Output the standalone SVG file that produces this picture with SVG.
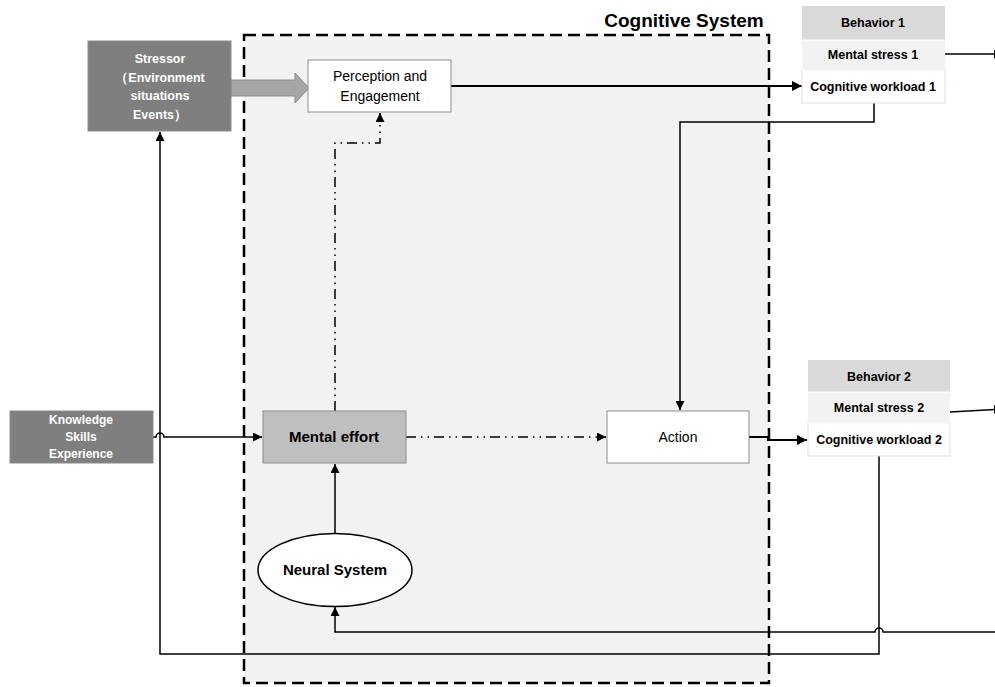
<svg xmlns="http://www.w3.org/2000/svg" width="995" height="687" viewBox="0 0 995 687">
  <style>
    .lbl { font-family: "Liberation Sans", Arial, sans-serif; text-anchor: middle; }
    .b { font-weight: bold; }
    .w { fill: #ffffff; }
    .k { fill: #000000; }
    .ln { fill: none; stroke: #000; stroke-width: 1.5; }
    .thick { fill: none; stroke: #000; stroke-width: 2.2; }
    .dd { fill: none; stroke: #000; stroke-width: 1.5; stroke-dasharray: 10 5 1.5 5 1.5 5; }
    .box { stroke: #8c8c8c; stroke-width: 1; }
  </style>
  <defs>
    <marker id="ah" viewBox="0 0 10 10" refX="10" refY="5" markerWidth="9" markerHeight="9" markerUnits="userSpaceOnUse" orient="auto">
      <path d="M0,0 L10,5 L0,10 z" fill="#000"/>
    </marker>
    <marker id="ahT" viewBox="0 0 10 10" refX="10" refY="5" markerWidth="10" markerHeight="10" markerUnits="userSpaceOnUse" orient="auto">
      <path d="M0,0 L10,5 L0,10 z" fill="#000"/>
    </marker>
  </defs>

  <rect width="995" height="687" fill="#ffffff"/>

  <!-- cognitive system boundary -->
  <g id="cognitive-system">
    <rect x="244" y="35" width="525" height="648" fill="#f2f2f2" stroke="#000" stroke-width="2.5" stroke-dasharray="12 6"/>
    <text class="lbl b" x="684" y="27" font-size="19">Cognitive System</text>
  </g>

  <!-- connectors -->
  <g id="connectors">
    <!-- stressor block arrow -->
    <path d="M231,80 H295 V73 L309,88 L295,103 V96 H231 z" fill="#a6a6a6" stroke="#8c8c8c" stroke-width="1"/>
    <!-- perception to workload 1 -->
    <path class="thick" d="M451,86 H802" marker-end="url(#ahT)"/>
    <!-- mental stress 1 out (head runs past the right edge) -->
    <path class="ln" d="M945,54 H1003" marker-end="url(#ah)"/>
    <!-- workload 1 to action -->
    <path class="ln" d="M874,103 V122 H680 V410" marker-end="url(#ah)"/>
    <!-- mental stress 2 out -->
    <path class="ln" d="M950,412 L1003,409" marker-end="url(#ah)"/>
    <!-- action to workload 2 -->
    <path class="thick" d="M749,437 H768 V440 H807" marker-end="url(#ahT)"/>
    <!-- mental effort to action -->
    <path class="dd" d="M406,437 H606" marker-end="url(#ah)"/>
    <!-- mental effort to perception -->
    <path class="dd" d="M335,411 V143 H380 V113" marker-end="url(#ah)"/>
    <!-- knowledge to mental effort (hop over feedback line) -->
    <path class="ln" d="M153,437 H156 A4,4 0 0 1 164,437 H262" marker-end="url(#ah)"/>
    <!-- workload 2 feedback to stressor -->
    <path class="ln" d="M879,456 V654 H160 V132" marker-end="url(#ah)"/>
    <!-- external input to neural system (hop) -->
    <path class="ln" d="M995,632 H883 A4,4 0 0 0 875,632 H335 V607" marker-end="url(#ah)"/>
    <!-- neural system to mental effort -->
    <path class="ln" d="M335,533 V464" marker-end="url(#ah)"/>
  </g>

  <g id="stressor">
    <rect class="box" x="88" y="41" width="143" height="90" fill="#7f7f7f"/>
    <text class="lbl b w" font-size="12.5"><tspan x="160" y="63">Stressor</tspan><tspan x="160" y="82">（Environment</tspan><tspan x="160" y="100">situations</tspan><tspan x="160" y="119">Events）</tspan></text>
  </g>

  <g id="perception">
    <rect class="box" x="308" y="60" width="143" height="52" fill="#ffffff"/>
    <text class="lbl k" font-size="14"><tspan x="380" y="81">Perception and</tspan><tspan x="380" y="101">Engagement</tspan></text>
  </g>

  <g id="behavior-1">
    <rect x="802" y="6" width="143" height="34" fill="#d9d9d9"/>
    <rect x="802" y="40" width="143" height="30" fill="#f2f2f2"/>
    <rect x="802" y="70" width="143" height="33" fill="#ffffff" stroke="#e0e0e0" stroke-width="1"/>
    <line x1="802" y1="40" x2="945" y2="40" stroke="#ffffff" stroke-width="1"/>
    <line x1="802" y1="70" x2="945" y2="70" stroke="#ffffff" stroke-width="1"/>
    <text class="lbl b k" font-size="12.5" x="873" y="27">Behavior 1</text>
    <text class="lbl b k" font-size="12.5" x="873" y="59">Mental stress 1</text>
    <text class="lbl b k" font-size="12.5" x="873" y="91">Cognitive workload 1</text>
  </g>

  <g id="behavior-2">
    <rect x="808" y="360" width="142" height="32" fill="#d9d9d9"/>
    <rect x="808" y="392" width="142" height="31" fill="#f2f2f2"/>
    <rect x="808" y="423" width="142" height="33" fill="#ffffff" stroke="#e0e0e0" stroke-width="1"/>
    <line x1="808" y1="392" x2="950" y2="392" stroke="#ffffff" stroke-width="1"/>
    <line x1="808" y1="423" x2="950" y2="423" stroke="#ffffff" stroke-width="1"/>
    <text class="lbl b k" font-size="12.5" x="879" y="381">Behavior 2</text>
    <text class="lbl b k" font-size="12.5" x="879" y="412">Mental stress 2</text>
    <text class="lbl b k" font-size="12.5" x="879" y="444">Cognitive workload 2</text>
  </g>

  <g id="knowledge">
    <rect class="box" x="10" y="411" width="143" height="52" fill="#7f7f7f"/>
    <text class="lbl b w" font-size="12"><tspan x="81" y="424">Knowledge</tspan><tspan x="81" y="441">Skills</tspan><tspan x="81" y="458">Experience</tspan></text>
  </g>

  <g id="mental-effort">
    <rect class="box" x="263" y="411" width="143" height="52" fill="#bfbfbf"/>
    <text class="lbl b k" font-size="15" x="334" y="442">Mental effort</text>
  </g>

  <g id="action">
    <rect class="box" x="607" y="411" width="142" height="52" fill="#ffffff"/>
    <text class="lbl k" font-size="14" x="678" y="442">Action</text>
  </g>

  <g id="neural-system">
    <ellipse cx="335" cy="570" rx="77" ry="36.5" fill="#ffffff" stroke="#000" stroke-width="1.5"/>
    <text class="lbl b k" font-size="15" x="335" y="575">Neural System</text>
  </g>
</svg>
